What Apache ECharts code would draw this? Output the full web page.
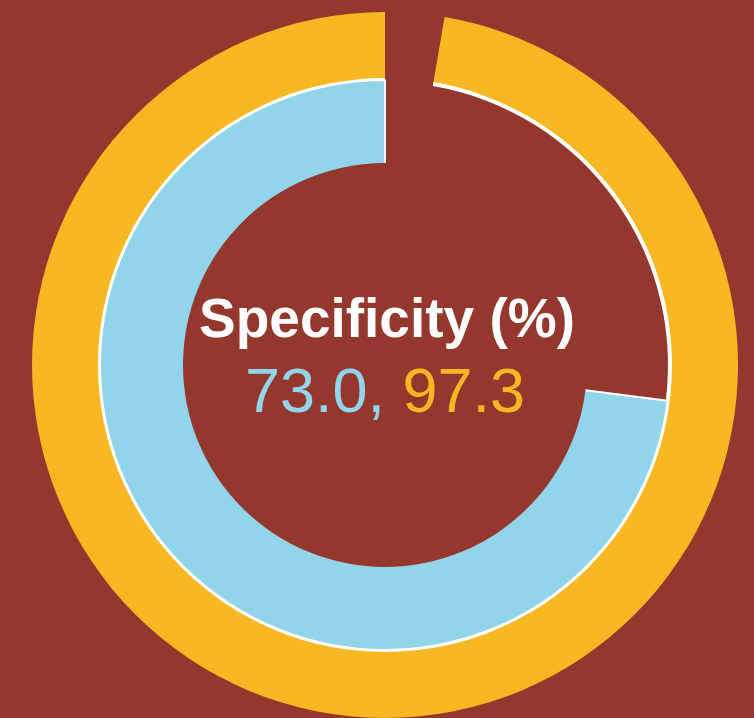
<!DOCTYPE html>
<html>
<head>
<meta charset="utf-8">
<script src="https://cdn.jsdelivr.net/npm/echarts@6/dist/echarts.min.js"></script>
<style>
html, body { margin: 0; padding: 0; background: #94382D; }
#main { width: 754px; height: 718px; }
</style>
</head>
<body>
<div id="main"></div>
<script>
var seriesNames = ["Blue", "Yellow"];
var specificity = [73.0, 97.3];
var colors = ["#92D5EA", "#F7B824"];
var bg = "#94382D";
var title = "Specificity (%)";

var chart = echarts.init(document.getElementById("main"));

function slices(v, c) {
    return [
        { value: v, itemStyle: { color: c } },
        { value: 100 - v, itemStyle: { color: "rgba(0,0,0,0)", borderWidth: 0 } }
    ];
}

var center = [385, 365];

var option = {
    backgroundColor: bg,
    animation: false,
    series: [ {
        name: seriesNames[1],
        type: "pie",
        center: center,
        radius: [284, 353],
        startAngle: 90,
        clockwise: false,
        silent: true,
        label: { show: false },
        labelLine: { show: false },
        itemStyle: { borderWidth: 0 },
        data: slices(specificity[1], colors[1])
    }, {
        // white inner edge of the outer ring
        type: "pie",
        center: center,
        radius: [283, 287],
        startAngle: 90,
        clockwise: false,
        silent: true,
        label: { show: false },
        labelLine: { show: false },
        data: slices(specificity[1], "#ffffff")
    }, {
        name: seriesNames[0],
        type: "pie",
        center: center,
        radius: [196, 285],
        startAngle: 90,
        clockwise: false,
        silent: true,
        z: 3,
        label: { show: false },
        labelLine: { show: false },
        itemStyle: { borderColor: "#ffffff", borderWidth: 2 },
        data: slices(specificity[0], colors[0])
    }, {
        // cover the inner edge so no border shows there
        type: "pie",
        center: center,
        radius: [0, 202],
        silent: true,
        z: 4,
        label: { show: false },
        labelLine: { show: false },
        data: [ { value: 1, itemStyle: { color: bg } } ]
    } ],
    graphic: [ {
        type: "text",
        z: 10,
        style: {
            x: center[0] + 2, y: 322,
            text: title,
            fill: "#ffffff",
            font: "bold 55px 'Liberation Sans', Arial, sans-serif",
            textAlign: "center",
            textVerticalAlign: "middle"
        }
    }, {
        type: "text",
        z: 10,
        style: {
            x: center[0], y: 395,
            rich: {
                b: { fill: colors[0], font: "63px 'Liberation Sans', Arial, sans-serif" },
                y: { fill: colors[1], font: "63px 'Liberation Sans', Arial, sans-serif" }
            },
            text: "{b|" + specificity[0].toFixed(1) + ",\u00a0}{y|" + specificity[1].toFixed(1) + "}",
            textAlign: "center",
            textVerticalAlign: "middle"
        }
    } ]
};

chart.setOption(option);
</script>
</body>
</html>
